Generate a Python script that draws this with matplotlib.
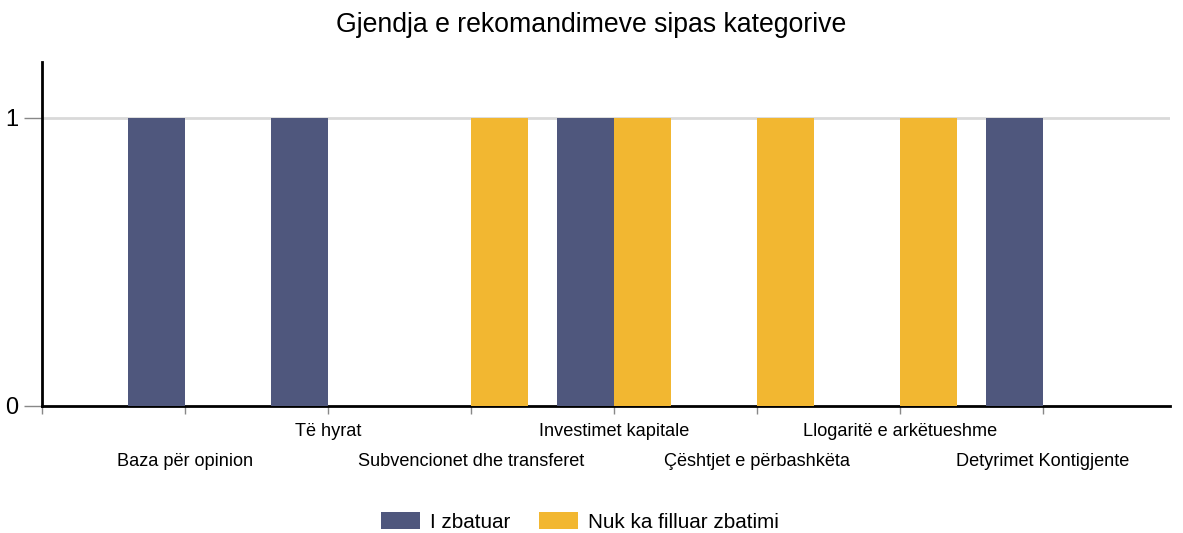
import matplotlib
matplotlib.use("Agg")
import matplotlib.pyplot as plt
import numpy as np

plt.rcParams['font.family'] = ['Liberation Sans', 'DejaVu Sans']

categories = ["Baza për opinion", "Të hyrat", "Subvencionet dhe transferet",
              "Investimet kapitale", "Çështjet e përbashkëta",
              "Llogaritë e arkëtueshme", "Detyrimet Kontigjente"]
series_names = ["I zbatuar", "Nuk ka filluar zbatimi"]
zbatuar = [1, 1, 0, 1, 0, 0, 1]
nuk_ka = [0, 0, 1, 1, 1, 1, 0]
colors = ["#4F577D", "#F2B731"]

W, H = 1183, 533
fig = plt.figure(figsize=(W / 100, H / 100), dpi=100)
ax = fig.add_axes([42 / W, 1 - 406 / H, (1170 - 42) / W, (406 - 62) / H])

x = np.arange(len(categories))
bw = 0.4
ax.bar(x - bw / 2, zbatuar, width=bw, color=colors[0], label=series_names[0], zorder=3)
ax.bar(x + bw / 2, nuk_ka, width=bw, color=colors[1], label=series_names[1], zorder=3)

ax.set_xlim(-1, 6.89)
ax.set_ylim(0, 1.194)
ax.set_yticks([0, 1])
ax.set_yticklabels(["0", "1"], fontsize=17)
ax.axhline(1, color="#D9D9D9", lw=2, zorder=1)

ax.set_xticks(np.arange(-1, len(categories)))
ax.set_xticklabels([])
ax.tick_params(axis='x', length=6, width=1, color="#888888", direction='out')
ax.tick_params(axis='y', length=13, width=1, color="#888888", pad=4)

for s in ["top", "right"]:
    ax.spines[s].set_visible(False)
for s in ["left", "bottom"]:
    ax.spines[s].set_linewidth(2)
    ax.spines[s].set_color("black")

trans = ax.get_xaxis_transform()
for i, c in enumerate(categories):
    ypx = 461 if i % 2 == 0 else 431
    yax = (406 - ypx) / (406 - 62)
    ax.text(i, yax, c, transform=trans, ha='center', va='center', fontsize=13.1, clip_on=False)

fig.text(591 / W, 1 - 25 / H, "Gjendja e rekomandimeve sipas kategorive",
         ha='center', va='center', fontsize=19.2)

fig.legend(loc='center', bbox_to_anchor=(580 / W, 1 - 522 / H), ncol=2, frameon=False,
           fontsize=14.9, handlelength=1.92, handleheight=0.9, handletextpad=0.48,
           columnspacing=1.35)

fig.savefig("out.png", dpi=100)
